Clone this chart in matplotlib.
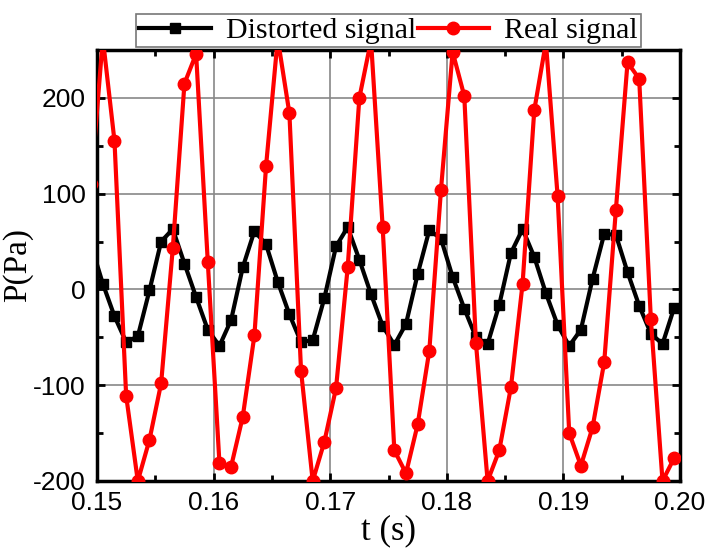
import matplotlib.pyplot as plt
import numpy as np
from matplotlib.ticker import MultipleLocator

plt.rcParams['axes.unicode_minus'] = False

# sample times (one sample per ms, first one lies just left of the window)
t = [0.1495 + 0.001 * k for k in range(51)]

distorted = [46, 6, -28, -55, -49, -1, 50, 63, 27, -8, -42,
             -59, -32, 23, 61, 47, 8, -26, -55, -53, -9,
             45, 65, 31, -5, -38, -58, -36, 16, 62, 53,
             13, -20, -50, -57, -16, 38, 63, 34, -4, -37,
             -59, -42, 11, 58, 57, 18, -17, -46, -57, -19]

real = [110, 262, 155, -111, -200, -157, -98, 43, 215, 246, 29,
        -181, -185, -133, -48, 129, 262, 184, -85, -200, -159,
        -103, 23, 200, 260, 65, -168, -192, -141, -64, 104,
        248, 202, -56, -200, -168, -102, 6, 187, 258, 98,
        -150, -184, -144, -76, 83, 237, 220, -31, -200, -176]

fig = plt.figure(figsize=(7.08, 5.52), dpi=100)
ax = fig.add_axes([97 / 708, 71 / 552, 583 / 708, 431 / 552])

ax.plot(t, distorted, color='black', lw=3, marker='s', ms=7,
        label='Distorted signal', zorder=3)
ax.plot(t, real, color='red', lw=3, marker='o', ms=9,
        label='Real signal', zorder=4)

ax.set_xlim(0.15, 0.20)
ax.set_ylim(-200, 250)
ax.xaxis.set_minor_locator(MultipleLocator(0.005))
ax.yaxis.set_major_locator(MultipleLocator(100))
ax.yaxis.set_minor_locator(MultipleLocator(50))
ax.set_xticks([0.15, 0.16, 0.17, 0.18, 0.19, 0.20])
ax.set_xticklabels(['0.15', '0.16', '0.17', '0.18', '0.19', '0.20'])

ax.grid(True, which='major', color='#888888', lw=1.2, zorder=0)
ax.tick_params(which='both', direction='in', top=True, right=True,
               labelsize=19, width=2)
ax.tick_params(axis='x', pad=7)
ax.tick_params(axis='y', pad=8)
ax.tick_params(which='major', length=6)
ax.tick_params(which='minor', length=4)
for lab in ax.get_xticklabels() + ax.get_yticklabels():
    lab.set_family('Liberation Sans')
for sp in ax.spines.values():
    sp.set_linewidth(2.5)

ax.set_xlabel('t (s)', family='Liberation Serif', fontsize=25, labelpad=0)
ax.set_ylabel('P(Pa)', family='Liberation Serif', fontsize=24, labelpad=0)

leg = ax.legend(loc='lower center', bbox_to_anchor=(0.5, 1.0), ncol=2,
                prop={'family': 'Liberation Serif', 'size': 21.5},
                fancybox=False, framealpha=1, edgecolor='#777777',
                handlelength=2.4, handletextpad=0.5, columnspacing=0.05,
                borderpad=0.1, borderaxespad=0.1)
leg.get_frame().set_linewidth(1.2)

fig.savefig('out.png', dpi=100)
